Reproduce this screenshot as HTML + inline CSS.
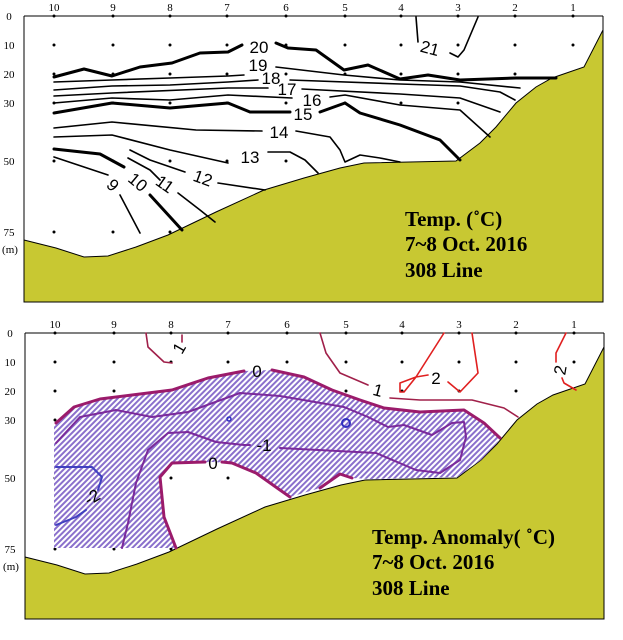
<!DOCTYPE html>
<html><head><meta charset="utf-8"><style>
html,body{margin:0;padding:0;background:#fff;}
svg{display:block;}
svg path{stroke-linejoin:round;stroke-linecap:round;}
.t{font-family:"Liberation Serif",serif;font-size:11px;fill:#000;}
.big{font-family:"Liberation Serif",serif;font-size:21px;font-weight:bold;fill:#000;}
.lab{font-family:"Liberation Sans",sans-serif;font-size:17px;fill:#000;}
.c{fill:none;stroke:#000;stroke-width:1.6;}
.k{fill:none;stroke:#000;stroke-width:3;}
</style></head><body>
<svg width="623" height="640" viewBox="0 0 623 640" xmlns="http://www.w3.org/2000/svg">
<defs>
<pattern id="h" width="4" height="4" patternUnits="userSpaceOnUse" patternTransform="rotate(45)">
<rect width="4" height="4" fill="#fff"/><rect width="2" height="4" fill="#8a70cc"/>
</pattern>
<g id="terr">
<polygon fill="#c8c832" stroke="#000" stroke-width="1" points="24,240 56,248 84,257 108,256 136,247 168,235 216,212 264,190 304,178 340,168 364,163 456,161 480,143 496,127 516,103 536,87 552,78 584,67 603,30 603,302 24,302"/>
</g>
<g id="axes">
<line x1="24" y1="16" x2="603" y2="16" stroke="#000"/>
<line x1="24" y1="16" x2="24" y2="302" stroke="#000"/>
<line x1="603" y1="16" x2="603" y2="302" stroke="#000"/>
<g class="t" text-anchor="middle">
<text x="54" y="11">10</text><text x="113" y="11">9</text><text x="170" y="11">8</text><text x="227" y="11">7</text><text x="286" y="11">6</text><text x="345" y="11">5</text><text x="401" y="11">4</text><text x="458" y="11">3</text><text x="515" y="11">2</text><text x="573" y="11">1</text>
<text x="9" y="20">0</text><text x="9" y="49">10</text><text x="9" y="78">20</text><text x="9" y="107">30</text><text x="9" y="165">50</text><text x="9" y="236">75</text><text x="10" y="253">(m)</text>
</g>
<g fill="#000">
<circle cx="54" cy="16" r="1.5"/><circle cx="113" cy="16" r="1.5"/><circle cx="170" cy="16" r="1.5"/><circle cx="227" cy="16" r="1.5"/><circle cx="286" cy="16" r="1.5"/><circle cx="345" cy="16" r="1.5"/><circle cx="401" cy="16" r="1.5"/><circle cx="458" cy="16" r="1.5"/><circle cx="515" cy="16" r="1.5"/><circle cx="573" cy="16" r="1.5"/>
<circle cx="54" cy="45" r="1.5"/><circle cx="113" cy="45" r="1.5"/><circle cx="170" cy="45" r="1.5"/><circle cx="227" cy="45" r="1.5"/><circle cx="286" cy="45" r="1.5"/><circle cx="345" cy="45" r="1.5"/><circle cx="401" cy="45" r="1.5"/><circle cx="458" cy="45" r="1.5"/><circle cx="515" cy="45" r="1.5"/><circle cx="573" cy="45" r="1.5"/>
<circle cx="54" cy="74" r="1.5"/><circle cx="113" cy="74" r="1.5"/><circle cx="170" cy="74" r="1.5"/><circle cx="227" cy="74" r="1.5"/><circle cx="286" cy="74" r="1.5"/><circle cx="345" cy="74" r="1.5"/><circle cx="401" cy="74" r="1.5"/><circle cx="458" cy="74" r="1.5"/><circle cx="515" cy="74" r="1.5"/>
<circle cx="54" cy="103" r="1.5"/><circle cx="113" cy="103" r="1.5"/><circle cx="170" cy="103" r="1.5"/><circle cx="227" cy="103" r="1.5"/><circle cx="286" cy="103" r="1.5"/><circle cx="345" cy="103" r="1.5"/><circle cx="401" cy="103" r="1.5"/><circle cx="458" cy="103" r="1.5"/>
<circle cx="54" cy="161" r="1.5"/><circle cx="113" cy="161" r="1.5"/><circle cx="170" cy="161" r="1.5"/><circle cx="227" cy="161" r="1.5"/><circle cx="286" cy="161" r="1.5"/>
<circle cx="54" cy="232" r="1.5"/><circle cx="113" cy="232" r="1.5"/><circle cx="170" cy="232" r="1.5"/>
</g>
</g>
</defs>

<use href="#terr"/>
<use href="#axes"/>
<path class="k" d="M54,77 L84,69 L112,76 L140,67 L172,63 L200,53 L228,52 L242,45"/>
<path class="k" d="M276,43 L288,48 L316,50 L344,70 L368,65 L400,79 L428,75 L460,80 L516,78 L556,78"/>
<path class="c" d="M416,17 L418,42 M450,53 L458,57 L464,50 L478,17"/>
<path class="c" d="M54,82 L112,80 L170,78 L228,76 L244,75 M276,67 L344,75 L400,80 L460,82 L520,88"/>
<path class="c" d="M54,90 L112,86 L170,85 L228,82 L258,80 M290,80 L400,84 L460,86 L500,92 L515,100"/>
<path class="c" d="M54,96 L112,93 L228,88 L268,88 M302,89 L400,94 L460,98 L500,112"/>
<path class="c" d="M54,103 L112,98 L170,100 L228,95 L292,98 M330,97 L345,95 L400,105 L460,110 L490,137"/>
<path class="k" d="M54,113 L112,103 L170,108 L228,103 L250,112 L290,112 M320,112 L345,103 L360,113 L400,125 L440,140 L460,160"/>
<path class="c" d="M54,128 L112,122 L196,130 L262,131 M296,131 L330,137 L340,150 L345,162 L360,155 L380,158 L400,162"/>
<path class="c" d="M54,137 L112,135 L170,150 L228,163 M268,152 L290,152 L305,160 L318,173"/>
<path class="c" d="M130,150 L150,160 L185,172 M218,183 L265,190"/>
<path class="c" d="M128,158 L150,170 L160,180 M178,193 L200,210 L215,222"/>
<path class="k" d="M54,149 L100,154 L124,167 M150,195 L182,230"/>
<path class="c" d="M54,157 L108,175 M120,195 L140,233"/>
<g class="lab" text-anchor="middle">
<text x="259" y="53">20</text><text x="258" y="71">19</text><text x="271" y="84">18</text><text x="287" y="95">17</text><text x="312" y="106">16</text><text x="303" y="120">15</text><text x="279" y="138">14</text>
<text x="250" y="163">13</text>
<text x="203" y="184" transform="rotate(20 203 178)">12</text>
<text x="165" y="190" transform="rotate(35 165 184)">11</text>
<text x="138" y="188" transform="rotate(40 138 182)">10</text>
<text x="113" y="191" transform="rotate(45 113 185)">9</text>
<text x="430" y="54" transform="rotate(15 430 48)">21</text>
</g>
<text class="big" x="405" y="226">Temp. (˚C)</text>
<text class="big" x="405" y="251">7~8 Oct. 2016</text>
<text class="big" x="405" y="277">308 Line</text>

<g transform="translate(1,317)">
<use href="#terr"/>
<use href="#axes"/>
</g>
<path fill="url(#h)" d="M56,423 L74,407 L100,399 L132,395 L172,390 L208,378 L244,371 L272,370 L304,377 L332,390 L360,400 L384,408 L420,412 L464,410 L484,423 L500,438 L497,443 L481,460 L457,477 L369,479 L352,478 L340,474 L320,488 L290,497 L280,490 L256,473 L232,463 L212,462 L172,463 L160,477 L164,517 L176,548 L54,548 L54,425 Z"/>
<path fill="none" stroke="#9b1b6b" stroke-width="3" d="M56,423 L74,407 L100,399 L132,395 L172,390 L208,378 L244,371 M272,370 L304,377 L332,390 L360,400 L384,408 L420,412 L464,410 L484,423 L500,438"/>
<path fill="none" stroke="#9b1b6b" stroke-width="3" d="M176,548 L164,517 L160,477 L172,463 L205,462 M222,462 L232,463 L256,473 L280,490 L290,497 M320,488 L340,474 L352,478"/>
<path fill="none" stroke="#7b2a9b" stroke-width="2" d="M56,443 L80,417 L116,410 L152,417 L188,412 L240,393 L280,396 L344,407 L368,417 L388,427 L404,425 L432,435 L452,423 L464,422 L466,437 L460,460 L440,473 L416,470 L376,453 L280,448 M250,445 L244,445 L216,442 L188,432 L168,433 L148,450 L136,483 L128,523 L122,548"/>
<path fill="none" stroke="#4040c0" stroke-width="2" d="M56,467 L92,467 L102,477 L98,490 M86,510 L76,517 L56,525"/>
<circle cx="229" cy="419" r="2" fill="none" stroke="#3030c0" stroke-width="1.5"/>
<circle cx="346" cy="423" r="4" fill="none" stroke="#3030c0" stroke-width="2"/>
<path fill="none" stroke="#a0204a" stroke-width="1.6" d="M146,333 L148,347 L164,362 L172,363 M182,342 L182,335"/>
<path fill="none" stroke="#a0204a" stroke-width="1.6" d="M320,333 L326,353 L340,373 L368,385 M390,398 L420,400 L472,400 L504,408 L518,417"/>
<path fill="none" stroke="#e02020" stroke-width="1.6" d="M444,333 L416,377 L400,383 L400,392 L404,392 L416,377 L428,375 M448,382 L460,392 L478,373 L472,333"/>
<path fill="none" stroke="#e02020" stroke-width="1.6" d="M566,333 L556,353 L556,362 M562,378 L564,383 L576,390"/>
<g class="lab" text-anchor="middle">
<text x="257" y="377">0</text><text x="213" y="469">0</text><text x="264" y="451">-1</text>
<text x="92" y="503" transform="rotate(-30 92 497)">-2</text>
<text x="179" y="354" transform="rotate(-60 179 348)">1</text>
<text x="378" y="396" transform="rotate(15 378 390)">1</text>
<text x="436" y="384">2</text>
<text x="560" y="376" transform="rotate(-80 560 370)">2</text>
</g>
<text class="big" x="372" y="544">Temp. Anomaly( ˚C)</text>
<text class="big" x="372" y="569">7~8 Oct. 2016</text>
<text class="big" x="372" y="595">308 Line</text>
</svg>
</body></html>
